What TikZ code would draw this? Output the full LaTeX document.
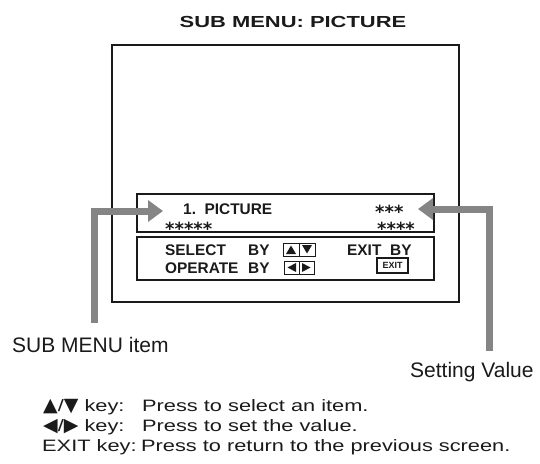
\documentclass[tikz,border=0pt]{standalone}
\usepackage{fontspec}
\setmainfont{Liberation Sans}
\newfontfamily\widefont[FakeStretch=1.32]{Liberation Sans}
\newfontfamily\titlefont[FakeStretch=1.37]{Liberation Sans}
\newfontfamily\symfont{DejaVu Sans}
\usetikzlibrary{arrows.meta,positioning}
\definecolor{MenuGray}{HTML}{858585}
\definecolor{MenuInk}{HTML}{1A1A1A}
\newcommand\keysym[1]{{\symfont\fontsize{19}{19}\selectfont #1}}

\begin{document}
\begin{tikzpicture}[x=1pt,y=-1pt,
  menutxt/.style={font=\bfseries\fontsize{15.4}{18}\selectfont,anchor=base west,inner sep=0pt,text=MenuInk},
  startxt/.style={font=\symfont\bfseries\fontsize{18}{20}\selectfont,anchor=base west,inner sep=0pt,text=MenuInk},
  keytxt/.style={font=\widefont\fontsize{16.5}{19}\selectfont,anchor=base west,inner sep=0pt,text=MenuInk},
  lbltxt/.style={font=\fontsize{21}{24}\selectfont,anchor=base west,inner sep=0pt,text=MenuInk},
  pointer/.style={MenuGray,line width=7pt,-{Triangle[length=15pt,width=21pt]}}]
  \useasboundingbox (0,0) rectangle (540,463);

  % Title
  \node[font=\titlefont\bfseries\fontsize{16}{18}\selectfont,anchor=base,inner sep=0pt,text=MenuInk]
    (title) at (293,27) {SUB MENU: PICTURE};

  % Screen and menu boxes
  \draw[MenuInk,line width=2pt] (112,45) rectangle (459,302);
  \draw[MenuInk,line width=1.1pt] (137,194) rectangle (434,232);
  \draw[MenuInk,line width=1.1pt] (137,237) rectangle (434,280);

  % Item line
  \node[menutxt] (itemname) at (183,214) {1.\ \ PICTURE};
  \node[startxt] (itemstar) at (165,235) {*****};
  \node[startxt] (valtop) at (375,218) {***};
  \node[startxt] (valbot) at (377,235) {****};

  % Key guide
  \node[menutxt] (selby) at (165,255) {\makebox[83pt][l]{SELECT}BY};
  \node[menutxt] (opby) at (165,273) {\makebox[83pt][l]{OPERATE}BY};
  \node[menutxt] (exitby) at (347,255) {\makebox[43pt][l]{EXIT}BY};

  % Up/down keys
  \begin{scope}[MenuInk,line width=1pt]
    \draw (283,243) rectangle (299,256);
    \draw (299,243) rectangle (315,256);
    \fill (286,254) -- (296,254) -- (291,245.5) -- cycle;
    \fill (302,245) -- (312,245) -- (307,253.5) -- cycle;
  \end{scope}

  % Left/right keys
  \begin{scope}[MenuInk,line width=1pt]
    \draw (284,261) rectangle (299,274);
    \draw (299,261) rectangle (314,274);
    \fill (296,263) -- (296,272) -- (287.5,267.5) -- cycle;
    \fill (302,263) -- (302,272) -- (310.5,267.5) -- cycle;
  \end{scope}

  % EXIT key
  \draw[MenuInk,line width=1.6pt] (377,258) rectangle (408,273);
  \node[font=\bfseries\fontsize{9}{9}\selectfont,text=MenuInk,inner sep=0pt]
    (exitkey) at (392.5,265.5) {EXIT};

  % Callouts
  \node[lbltxt] (subitem) at (12,352) {SUB MENU item};
  \node[lbltxt] (setval) at (410,377) {Setting Value};
  \coordinate (itemfoot) at (94,323);
  \coordinate (itemtip) at (163,211);
  \coordinate (valfoot) at (489,351);
  \coordinate (valtip) at (418,209);
  \draw[pointer] (itemfoot) |- (itemtip);
  \draw[pointer] (valfoot) |- (valtip);

  % Key notes
  \node[keytxt] (keyud) at (43,411) {\keysym{▲}/\keysym{▼} key:};
  \node[keytxt] (noteud) at (142,411) {Press to select an item.};
  \node[keytxt] (keylr) at (43,431) {\keysym{◀}/\keysym{▶} key:};
  \node[keytxt] (notelr) at (142,431) {Press to set the value.};
  \node[keytxt] (keyexit) at (42,451) {EXIT key:};
  \node[keytxt] (noteexit) at (141,451) {Press to return to the previous screen.};
\end{tikzpicture}
\end{document}
